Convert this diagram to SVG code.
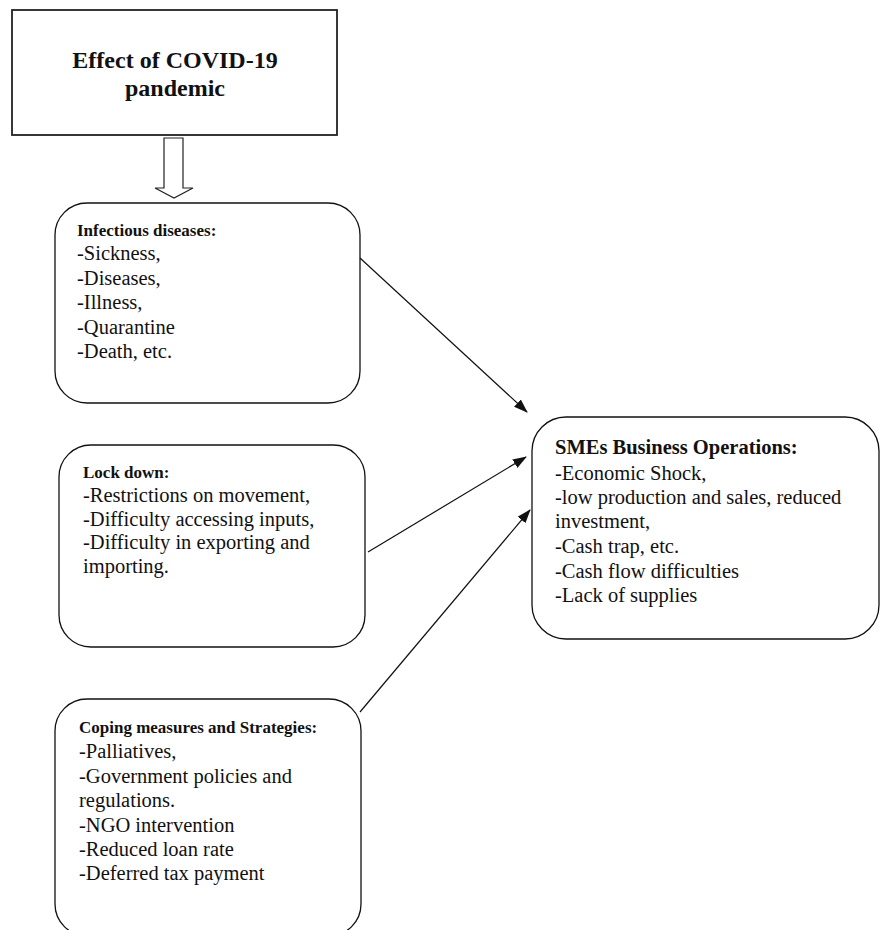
<svg xmlns="http://www.w3.org/2000/svg" width="880" height="930" viewBox="0 0 880 930">
<defs>
<style>
text{font-family:"Liberation Serif","Times New Roman",serif;fill:#111}
.t{font-size:24px;font-weight:bold}
.h{font-size:17px;font-weight:bold}
.hb{font-size:20.5px;font-weight:bold}
.r{font-size:20.5px}
.box{fill:#fff;stroke:#111;stroke-width:1.3}
.conn{stroke:#111;stroke-width:1.2;fill:none}
</style>
<marker id="ah" markerWidth="14" markerHeight="10" refX="13" refY="5" orient="auto" markerUnits="userSpaceOnUse">
<path d="M0,0 L14,5 L0,10 Z" fill="#111"/>
</marker>
</defs>
<rect width="880" height="930" fill="#fff"/>
<g id="title">
<rect x="12" y="10" width="325" height="125" fill="#fff" stroke="#222" stroke-width="1.8"/>
<text class="t" x="175" y="68" text-anchor="middle">Effect of COVID-19</text>
<text class="t" x="175" y="96" text-anchor="middle">pandemic</text>
</g>
<g id="down-arrow">
<path d="M164,138 L183,138 L183,188 L193,188 L174,198 L155,188 L164,188 Z" fill="#fff" stroke="#222" stroke-width="1.2"/>
</g>
<g id="infectious">
<rect class="box" x="55" y="203" width="305" height="200" rx="32" ry="32"/>
<text class="h" x="77" y="236">Infectious diseases:</text>
<text class="r" x="77" y="260">-Sickness,</text>
<text class="r" x="77" y="285">-Diseases,</text>
<text class="r" x="77" y="309">-Illness,</text>
<text class="r" x="77" y="334">-Quarantine</text>
<text class="r" x="77" y="358">-Death, etc.</text>
</g>
<g id="lockdown">
<rect class="box" x="59" y="445" width="306" height="202" rx="32" ry="32"/>
<text class="h" x="83" y="478">Lock down:</text>
<text class="r" x="83" y="502">-Restrictions on movement,</text>
<text class="r" x="83" y="526">-Difficulty accessing inputs,</text>
<text class="r" x="83" y="549">-Difficulty in exporting and</text>
<text class="r" x="83" y="573">importing.</text>
</g>
<g id="coping">
<rect class="box" x="55" y="699" width="306" height="237" rx="32" ry="32"/>
<text class="h" x="79" y="733">Coping measures and Strategies:</text>
<text class="r" x="79" y="758">-Palliatives,</text>
<text class="r" x="79" y="783">-Government policies and</text>
<text class="r" x="79" y="807">regulations.</text>
<text class="r" x="79" y="832">-NGO intervention</text>
<text class="r" x="79" y="856">-Reduced loan rate</text>
<text class="r" x="79" y="880">-Deferred tax payment</text>
</g>
<g id="smes">
<rect class="box" x="532" y="417" width="347" height="222" rx="34" ry="34"/>
<text class="hb" x="555" y="454">SMEs Business Operations:</text>
<text class="r" x="555" y="480">-Economic Shock,</text>
<text class="r" x="555" y="504">-low production and sales, reduced</text>
<text class="r" x="555" y="528">investment,</text>
<text class="r" x="555" y="553">-Cash trap, etc.</text>
<text class="r" x="555" y="578">-Cash flow difficulties</text>
<text class="r" x="555" y="602">-Lack of supplies</text>
</g>
<g id="connectors">
<line class="conn" x1="360" y1="258" x2="527" y2="412" marker-end="url(#ah)"/>
<line class="conn" x1="368" y1="552" x2="526" y2="457" marker-end="url(#ah)"/>
<line class="conn" x1="360" y1="712" x2="530" y2="510" marker-end="url(#ah)"/>
</g>
</svg>
